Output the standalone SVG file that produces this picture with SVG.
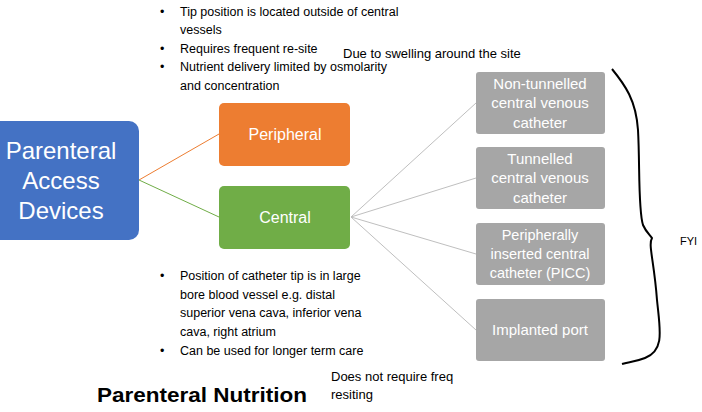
<svg xmlns="http://www.w3.org/2000/svg" width="702" height="412" viewBox="0 0 702 412">
<style>
text{font-family:"Liberation Sans",Arial,sans-serif}
.b{font-size:12.5px;fill:#000}
.w{fill:#fff;text-anchor:middle}
.g{fill:#a6a6a6}
.n{font-size:13px;fill:#000}
</style>
<rect width="702" height="412" fill="#fff"/>
<g id="connectors" fill="none">
<line x1="139" y1="180" x2="219" y2="134" stroke="#ed7d31"/>
<line x1="139" y1="180" x2="219" y2="217" stroke="#70ad47"/>
<g stroke="#bfbfbf">
<line x1="351" y1="217" x2="476" y2="103"/>
<line x1="351" y1="217" x2="476" y2="178"/>
<line x1="351" y1="217" x2="476" y2="254"/>
<line x1="351" y1="217" x2="476" y2="330"/>
</g>
</g>
<g id="pad"><rect x="-10" y="121" width="149" height="119" rx="10" fill="#4472c4"/>
<text class="w" font-size="24" x="61" y="159">Parenteral</text>
<text class="w" font-size="24" x="61" y="189">Access</text>
<text class="w" font-size="24" x="61" y="219">Devices</text></g>
<g id="peripheral"><rect x="219" y="103" width="131" height="63" rx="5" fill="#ed7d31"/>
<text class="w" font-size="16" x="285" y="140">Peripheral</text></g>
<g id="central"><rect x="219" y="186" width="131" height="63" rx="5" fill="#70ad47"/>
<text class="w" font-size="16" x="285" y="223">Central</text></g>
<g id="g1"><rect class="g" x="476" y="72" width="129" height="62" rx="3"/>
<text class="w" font-size="15" x="540" y="89">Non-tunnelled</text><text class="w" font-size="15" x="540" y="108">central venous</text><text class="w" font-size="15" x="540" y="128">catheter</text></g>
<g id="g2"><rect class="g" x="476" y="147" width="129" height="62" rx="3"/>
<text class="w" font-size="15" x="540" y="164">Tunnelled</text><text class="w" font-size="15" x="540" y="183">central venous</text><text class="w" font-size="15" x="540" y="203">catheter</text></g>
<g id="g3"><rect class="g" x="476" y="223" width="129" height="62" rx="3"/>
<text class="w" font-size="14.5" x="540" y="240">Peripherally</text><text class="w" font-size="14.5" x="540" y="259">inserted central</text><text class="w" font-size="14.5" x="540" y="278">catheter (PICC)</text></g>
<g id="g4"><rect class="g" x="476" y="299" width="129" height="62" rx="3"/>
<text class="w" font-size="15" x="540" y="335">Implanted port</text></g>
<g id="top">
<text class="b" x="160" y="16">•</text><text class="b" x="180" y="16">Tip position is located outside of central</text>
<text class="b" x="180" y="34">vessels</text>
<text class="b" x="160" y="53">•</text><text class="b" x="180" y="53">Requires frequent re-site</text>
<text class="b" x="160" y="71">•</text><text class="b" x="180" y="71">Nutrient delivery limited by osmolarity</text>
<text class="b" x="180" y="90">and concentration</text>
</g>
<text class="n" x="343" y="58">Due to swelling around the site</text>
<g id="bottom">
<text class="b" x="160" y="280">•</text><text class="b" x="180" y="280">Position of catheter tip is in large</text>
<text class="b" x="180" y="299">bore blood vessel e.g. distal</text>
<text class="b" x="180" y="317">superior vena cava, inferior vena</text>
<text class="b" x="180" y="336">cava, right atrium</text>
<text class="b" x="160" y="355">•</text><text class="b" x="180" y="355">Can be used for longer term care</text>
</g>
<text font-size="21" font-weight="bold" x="97" y="402" fill="#000" textLength="210" lengthAdjust="spacingAndGlyphs">Parenteral Nutrition</text>
<text class="n" x="331" y="381">Does not require freq</text>
<text class="n" x="331" y="399">resiting</text>
<path d="M612,69 C625,85 636,100 638,130 C640,165 638,210 643,225 C646,232 650,235 652,238 C648,245 654,260 657,300 C660,330 665,350 645,358 C635,362 628,362 622,364" fill="none" stroke="#000" stroke-width="2"/>
<text font-size="11" x="680" y="245" fill="#000">FYI</text>
</svg>
